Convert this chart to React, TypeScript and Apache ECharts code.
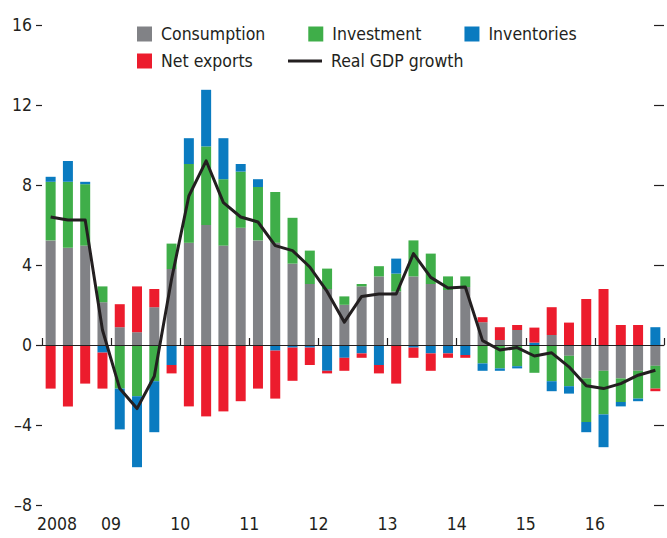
import React, { useEffect, useRef } from 'react';
import * as echarts from 'echarts';

const quarters = [
  '2008Q1', '2008Q2', '2008Q3', '2008Q4',
  '2009Q1', '2009Q2', '2009Q3', '2009Q4',
  '2010Q1', '2010Q2', '2010Q3', '2010Q4',
  '2011Q1', '2011Q2', '2011Q3', '2011Q4',
  '2012Q1', '2012Q2', '2012Q3', '2012Q4',
  '2013Q1', '2013Q2', '2013Q3', '2013Q4',
  '2014Q1', '2014Q2', '2014Q3', '2014Q4',
  '2015Q1', '2015Q2', '2015Q3', '2015Q4',
  '2016Q1', '2016Q2', '2016Q3', '2016Q4',
];

const yearLabels = ['2008', '09', '10', '11', '12', '13', '14', '15', '16'];

const consumption = [
  5.23, 4.86, 4.97, 2.14,
  0.89, 0.64, 1.89, 3.8,
  5.11, 6.0, 4.97, 5.86,
  5.23, 5.11, 4.07, 3.05,
  2.8, 2.01, 2.93, 3.43,
  2.68, 3.43, 3.05, 2.75,
  2.9, 1.14, 0.25, 0.75,
  0.0, 0.5, -0.54, -1.67,
  -1.29, -1.67, -1.29, -1.04,
];

const investment = [
  2.93, 3.3, 3.07, 0.79,
  -2.18, -2.56, -1.81, 1.27,
  3.94, 3.93, 3.32, 2.81,
  2.67, 2.54, 2.29, 1.67,
  1.02, 0.42, 0.12, 0.51,
  0.89, 1.8, 1.52, 0.68,
  0.53, -0.92, -1.17, -1.06,
  -1.39, -1.81, -1.52, -2.18,
  -2.18, -1.18, -1.39, -1.14,
];

const inventories = [
  0.25, 1.04, 0.12, -0.38,
  -2.04, -3.55, -2.55, -1.0,
  1.29, 2.83, 2.05, 0.38,
  0.39, -0.28, -0.13, -0.13,
  -1.29, -0.64, -0.42, -1.0,
  0.75, -0.13, -0.42, -0.42,
  -0.5, -0.37, -0.12, -0.11,
  0.12, -0.5, -0.37, -0.51,
  -1.64, -0.22, -0.13, 0.89,
];

const netExports = [
  -2.18, -3.07, -1.93, -1.8,
  1.15, 2.29, 0.91, -0.42,
  -3.07, -3.57, -3.32, -2.81,
  -2.18, -2.4, -1.66, -0.87,
  -0.13, -0.65, -0.22, -0.42,
  -1.93, -0.51, -0.87, -0.22,
  -0.14, 0.25, 0.64, 0.25,
  0.75, 1.39, 1.12, 2.3,
  2.8, 1.0, 1.0, -0.13,
];

const gdpGrowth = [
  6.4, 6.25, 6.25, 0.75,
  -2.18, -3.18, -1.56, 3.3,
  7.45, 9.21, 7.12, 6.4,
  6.15, 4.97, 4.72, 3.9,
  2.68, 1.14, 2.43, 2.55,
  2.55, 4.57, 3.38, 2.85,
  2.9, 0.22, -0.25, -0.13,
  -0.55, -0.39, -1.09, -2.04,
  -2.18, -1.93, -1.51, -1.26,
];

const FONT = '"DejaVu Sans Condensed", "DejaVu Sans", sans-serif';
const INK = '#231F20';
const COLORS = {
  consumption: '#818286',
  investment: '#3FAE49',
  inventories: '#0A7BC0',
  netExports: '#EC1C2D',
};

export default function App() {
  const ref = useRef<HTMLDivElement>(null);

  useEffect(() => {
    if (!ref.current) return;
    const chart = echarts.init(ref.current, null, { renderer: 'svg' });

    const textBase = { fontFamily: FONT, fontSize: 17.5, color: INK };
    const barBase = {
      type: 'bar' as const,
      stack: 'total',
      stackStrategy: 'samesign',
      barWidth: 10,
      xAxisIndex: 0,
      yAxisIndex: 0,
    };

    chart.setOption({
      animation: false,
      backgroundColor: '#ffffff',
      grid: { left: 42, right: -3, top: 25, bottom: 33, containLabel: false },
      legend: [
        {
          data: ['Consumption', 'Investment', 'Inventories'],
          left: 137,
          top: 25,
          padding: 0,
          itemWidth: 15,
          itemHeight: 15,
          itemGap: 43,
          icon: 'rect',
          selectedMode: false,
          textStyle: { ...textBase, padding: [0, 0, 0, 4] },
        },
        {
          data: ['Net exports'],
          left: 137,
          top: 52,
          padding: 0,
          itemWidth: 15,
          itemHeight: 15,
          icon: 'rect',
          selectedMode: false,
          textStyle: { ...textBase, padding: [0, 0, 0, 4] },
        },
        {
          data: ['Real GDP growth'],
          left: 288,
          top: 52,
          padding: 0,
          itemWidth: 34,
          itemHeight: 3,
          icon: 'rect',
          itemStyle: { color: INK },
          selectedMode: false,
          textStyle: { ...textBase, padding: [0, 0, 0, 4] },
        },
      ],
      xAxis: [
        {
          type: 'category',
          data: quarters,
          position: 'bottom',
          boundaryGap: true,
          axisLine: { show: true, lineStyle: { color: INK, width: 1.2 } },
          axisTick: { show: false },
          axisLabel: { show: false },
          splitLine: { show: false },
        },
        {
          type: 'value',
          position: 'bottom',
          min: 0,
          max: 36,
          interval: 4,
          axisLine: { show: false },
          axisTick: { show: true, inside: true, length: 7, lineStyle: { color: INK, width: 1.2 } },
          splitLine: { show: false },
          axisLabel: {
            ...textBase,
            margin: 10,
            formatter: (v: number) => {
              const idx = Math.round(v / 4);
              if (idx === 0) return '{first|' + yearLabels[0] + '}';
              return yearLabels[idx] ?? '';
            },
            rich: {
              first: { ...textBase, padding: [0, 0, 0, 30] },
            },
          },
        },
      ],
      yAxis: [
        {
          type: 'value',
          position: 'left',
          min: -8,
          max: 16,
          interval: 4,
          axisLine: { show: false },
          axisTick: { show: true, length: 6, lineStyle: { color: INK, width: 1.2 } },
          splitLine: { show: false },
          axisLabel: {
            ...textBase,
            margin: 10,
            formatter: (v: number) => (v < 0 ? '\u2013' + Math.abs(v) : String(v)),
          },
        },
        {
          type: 'value',
          position: 'right',
          min: -8,
          max: 16,
          interval: 4,
          axisLine: { show: false },
          axisTick: { show: true, inside: true, length: 10, lineStyle: { color: INK, width: 1.2 } },
          splitLine: { show: false },
          axisLabel: { show: false },
        },
      ],
      series: [
        {
          ...barBase,
          name: 'Consumption',
          data: consumption,
          itemStyle: { color: COLORS.consumption },
          markLine: {
            silent: true,
            symbol: ['none', 'none'],
            label: { show: false },
            lineStyle: { color: INK, width: 1.2, type: 'solid' },
            data: [{ yAxis: 0 }],
            z: 10,
          },
        },
        { ...barBase, name: 'Investment', data: investment, itemStyle: { color: COLORS.investment } },
        { ...barBase, name: 'Inventories', data: inventories, itemStyle: { color: COLORS.inventories } },
        { ...barBase, name: 'Net exports', data: netExports, itemStyle: { color: COLORS.netExports } },
        {
          type: 'line',
          name: 'Real GDP growth',
          data: gdpGrowth,
          xAxisIndex: 0,
          yAxisIndex: 0,
          symbol: 'none',
          z: 20,
          lineStyle: { color: INK, width: 3, join: 'round' },
          itemStyle: { color: INK },
        },
      ],
    });

    return () => chart.dispose();
  }, []);

  return (
    <div
      ref={ref}
      style={{ position: 'fixed', left: 0, top: 0, width: 667, height: 538, background: '#fff' }}
    />
  );
}
